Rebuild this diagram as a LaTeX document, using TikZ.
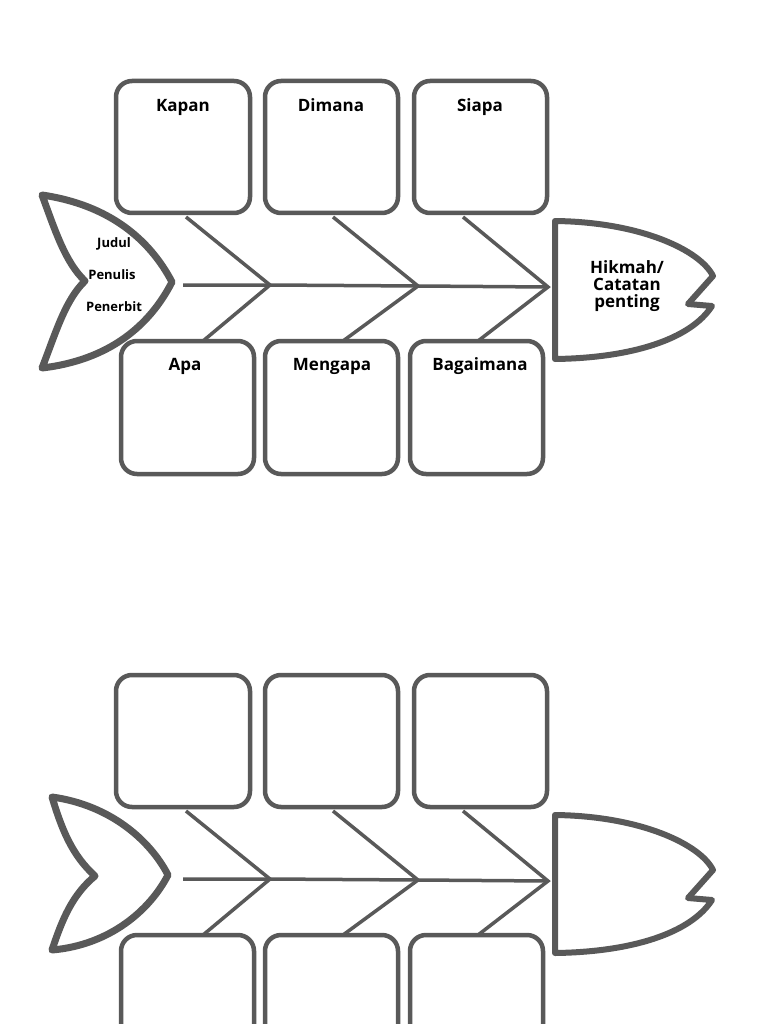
\documentclass[tikz,border=0pt]{standalone}
\usepackage{fontspec}
\setmainfont{Open Sans}
\begin{document}
\begin{tikzpicture}[x=1pt,y=-1pt,
  box/.style={draw=black!65,line width=4.5pt,rounded corners=16pt},
  bone/.style={draw=black!65,line width=3.5pt},
  outl/.style={draw=black!65,line width=6pt,line join=round,fill=white},
  lbl/.style={font=\bfseries\fontsize{17}{19}\selectfont,text height=12pt,text depth=4pt},
  small/.style={font=\bfseries\fontsize{13}{15}\selectfont,text height=10pt,text depth=3pt}]
\useasboundingbox[fill=white] (0,0) rectangle (768,1024);
\clip (0,0) rectangle (768,1024);
\newcommand\fishbody[1]{%
 \begin{scope}[shift={(0,#1)}]
 \draw[box] (116,81) rectangle (250,213);
 \draw[box] (265,81) rectangle (398,213);
 \draw[box] (414,81) rectangle (547,213);
 \draw[box] (121,341) rectangle (254,474);
 \draw[box] (265,341) rectangle (398,474);
 \draw[box] (410,341) rectangle (543,474);
 \coordinate (s0) at (183,285);
 \coordinate (j1) at (270,285);
 \coordinate (j2) at (418,286);
 \coordinate (j3) at (548,287);
 \draw[bone] (s0) -- (j1) -- (j2) -- (j3);
 \draw[bone] (186,217) -- (j1) -- (203,341);
 \draw[bone] (333,217) -- (j2) -- (343,341);
 \draw[bone] (463,217) -- (j3) -- (478,341);
 \draw[outl] (555,221) .. controls (640,222) and (700,250) .. (713,276)
   -- (688,304) -- (712,306) .. controls (690,340) and (630,358) .. (555,359) -- cycle;
 \end{scope}}
\fishbody{0}
\fishbody{594}
% tails
\draw[outl,line width=7pt] (42,195) .. controls (110,205) and (150,240) .. (172,282)
  .. controls (150,325) and (110,360) .. (42,368)
  .. controls (55,335) and (65,300) .. (85,281)
  .. controls (65,262) and (55,230) .. (42,195) -- cycle;
\draw[outl,line width=7pt] (52,797) .. controls (110,805) and (150,840) .. (168,875)
  .. controls (150,910) and (110,945) .. (52,950)
  .. controls (62,920) and (72,895) .. (95,876)
  .. controls (72,855) and (62,830) .. (52,797) -- cycle;
\node[lbl] (k) at (183,108) {Kapan};
\node[lbl] (d) at (331,108) {Dimana};
\node[lbl] (s) at (480,108) {Siapa};
\node[lbl] (a) at (185,366) {Apa};
\node[lbl] (m) at (332,366) {Mengapa};
\node[lbl] (b) at (480,366) {Bagaimana};
\node[small] (j) at (114,244) {Judul};
\node[small] (p) at (112,276) {Penulis};
\node[small] (pb) at (114,308) {Penerbit};
\node[align=center,inner sep=0pt,font=\bfseries\fontsize{17}{17}\selectfont] (h) at (627,286) {Hikmah/\\Catatan\\penting};
\end{tikzpicture}
\end{document}
